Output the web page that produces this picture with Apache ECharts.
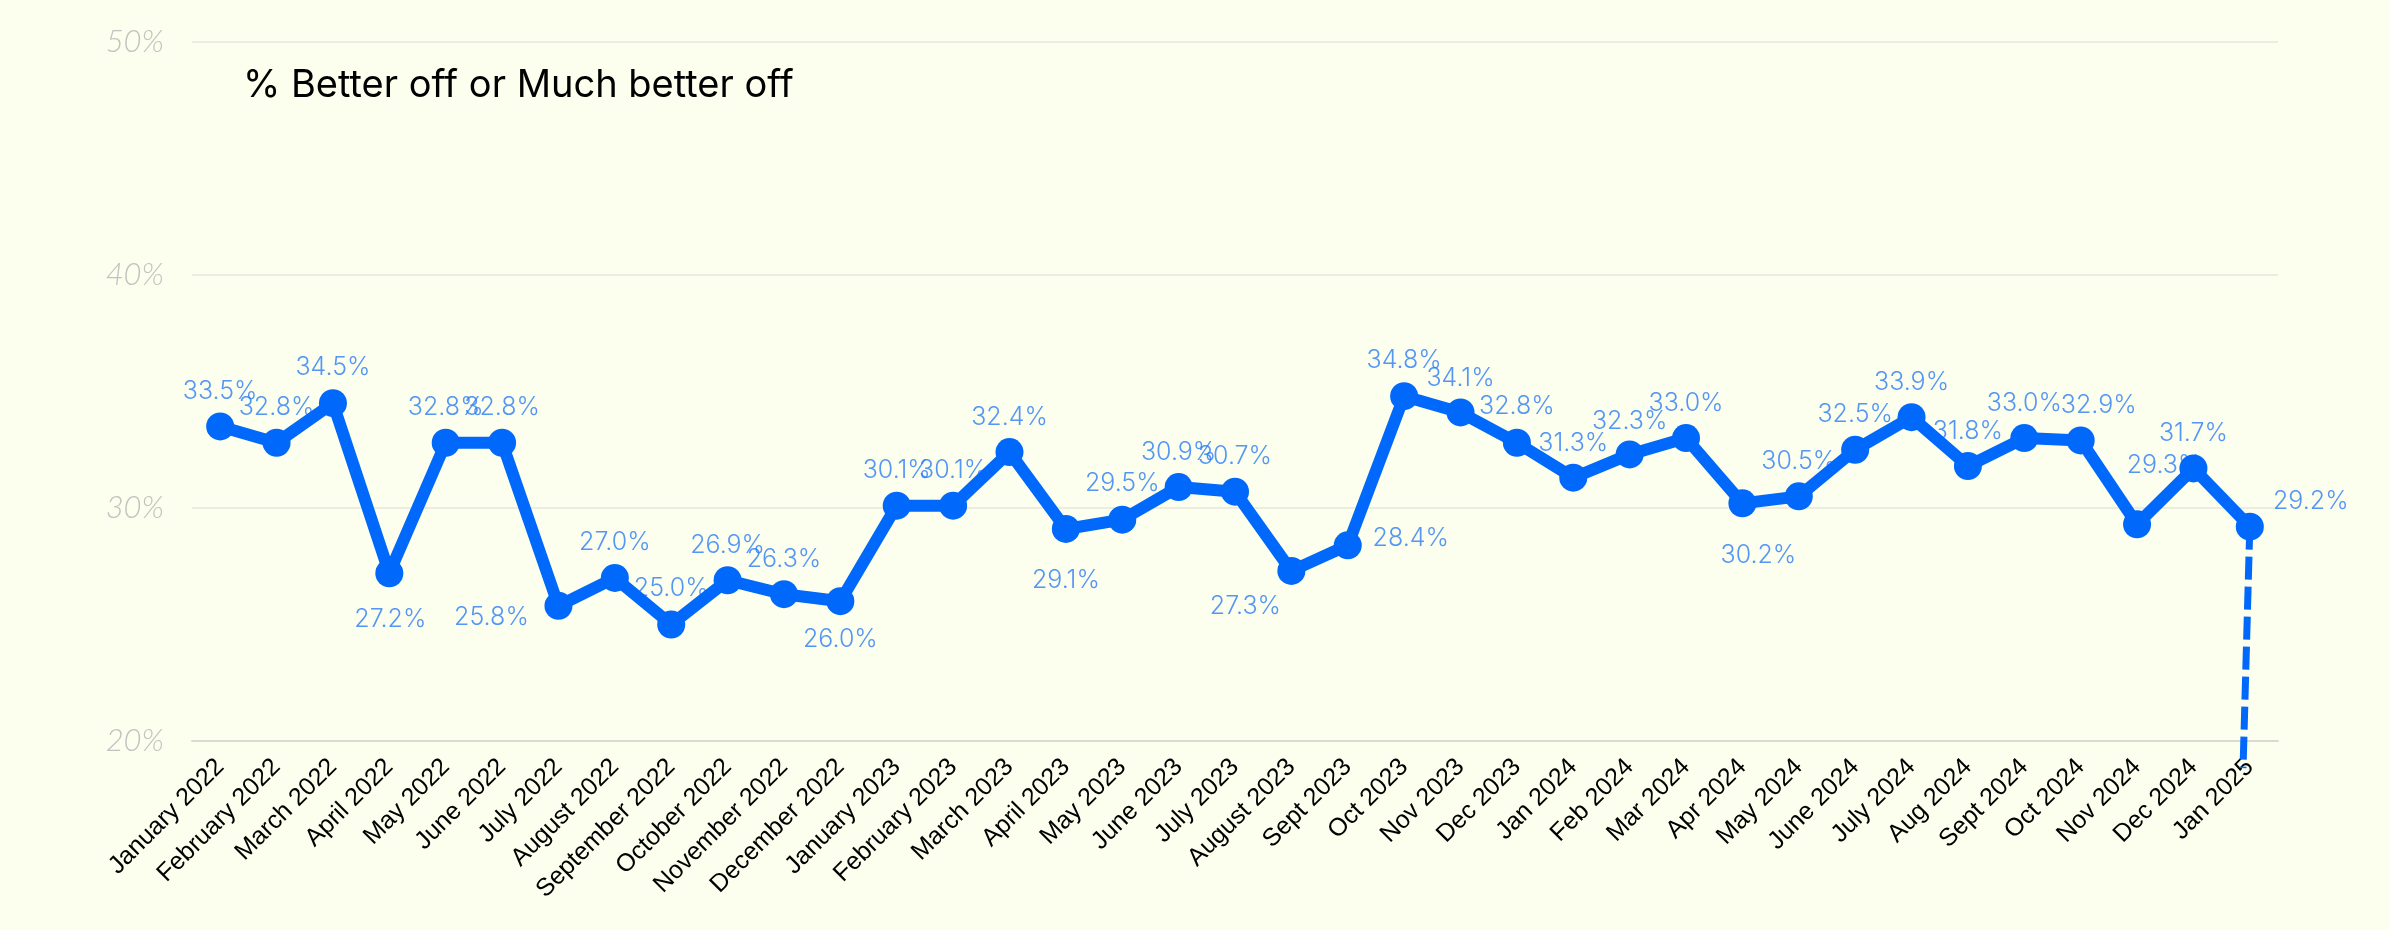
<!DOCTYPE html>
<html>
<head>
<meta charset="utf-8">
<script src="https://cdn.jsdelivr.net/npm/echarts@6/dist/echarts.min.js"></script>
<style>
  html, body { margin: 0; padding: 0; background: #fcfeee; }
  #chart { width: 2390px; height: 930px; }
</style>
</head>
<body>
<div id="chart"></div>
<script>
// Monthly survey: share answering "Better off" or "Much better off"
const months = [
  'January 2022', 'February 2022', 'March 2022', 'April 2022', 'May 2022', 'June 2022',
  'July 2022', 'August 2022', 'September 2022', 'October 2022', 'November 2022', 'December 2022',
  'January 2023', 'February 2023', 'March 2023', 'April 2023', 'May 2023', 'June 2023',
  'July 2023', 'August 2023', 'Sept 2023', 'Oct 2023', 'Nov 2023', 'Dec 2023',
  'Jan 2024', 'Feb 2024', 'Mar 2024', 'Apr 2024', 'May 2024', 'June 2024',
  'July 2024', 'Aug 2024', 'Sept 2024', 'Oct 2024', 'Nov 2024', 'Dec 2024', 'Jan 2025'
];

const betterOff = [
  33.5, 32.8, 34.5, 27.2, 32.8, 32.8, 25.8, 27.0, 25.0, 26.9, 26.3, 26.0,
  30.1, 30.1, 32.4, 29.1, 29.5, 30.9, 30.7, 27.3, 28.4, 34.8, 34.1, 32.8,
  31.3, 32.3, 33.0, 30.2, 30.5, 32.5, 33.9, 31.8, 33.0, 32.9, 29.3, 31.7, 29.2
];

// Dashed drop after the latest month: [month index, value]
const dropLine = [[36, 29.2], [35.88, 18.84]];

// Y axis ticks (percent)
const yTicks = [20, 30, 40, 50];

// Where each value label sits relative to its point, [dx, dy] in px
const labelOffsets = [
  [0, -35], [0, -35], [0, -36], [1, 46], [0, -35], [0, -35], [-67, 12], [0, -35], [0, -36], [0, -35], [0, -35], [0, 38],
  [0, -35], [0, -35], [0, -35], [0, 52], [0, -36], [0, -35], [0, -35], [-46, 36], [63, -7], [0, -36], [0, -34], [0, -36],
  [0, -34], [0, -33], [0, -35], [16, 52], [0, -35], [0, -35], [0, -35], [0, -35], [0, -35], [18, -35], [27, -59], [0, -35], [61, -25]
];

const LINE_BLUE = '#0068fa';
const LABEL_BLUE = '#2a7cf6';

const chart = echarts.init(document.getElementById('chart'), null, { renderer: 'canvas' });

chart.setOption({
  backgroundColor: '#fcfeee',
  animation: false,
  title: {
    text: '% Better off or Much better off',
    left: 238,
    top: 62,
    textStyle: {
      fontFamily: 'Inter',
      fontSize: 38,
      fontWeight: 400,
      color: '#000'
    }
  },
  grid: { left: 192, right: 112, top: 42, bottom: 189, containLabel: false },
  xAxis: [
    {
      type: 'category',
      data: months,
      boundaryGap: true,
      axisLine: { show: true, lineStyle: { color: '#d9d9d6', width: 2 } },
      axisTick: { show: false },
      axisLabel: {
        interval: 0,
        rotate: 45,
        margin: 22,
        fontFamily: 'Liberation Sans',
        fontSize: 25,
        color: '#000'
      },
      splitLine: { show: false }
    },
    {
      type: 'value',
      min: -0.5,
      max: months.length - 0.5,
      show: false
    }
  ],
  yAxis: {
    type: 'value',
    min: yTicks[0],
    max: yTicks[yTicks.length - 1],
    interval: yTicks[1] - yTicks[0],
    axisLine: { show: false },
    axisTick: { show: false },
    axisLabel: {
      formatter: '{value}%',
      margin: 28,
      fontFamily: 'Lato',
      fontStyle: 'italic',
      fontWeight: 300,
      fontSize: 31,
      color: '#c2c2c0'
    },
    splitLine: { lineStyle: { color: '#ecede0', width: 2 } }
  },
  series: [
    {
      // value labels, kept beneath the line
      name: 'labels',
      type: 'scatter',
      z: 1,
      symbol: 'circle',
      symbolSize: 28,
      itemStyle: { color: 'rgba(0,0,0,0)' },
      data: betterOff.map((v, i) => ({
        value: v,
        label: { offset: labelOffsets[i] }
      })),
      label: {
        show: true,
        position: 'inside',
        formatter: p => p.value.toFixed(1) + '%',
        fontFamily: 'Inter',
        fontWeight: 300,
        fontSize: 25,
        color: LABEL_BLUE
      },
      silent: true
    },
    {
      name: 'drop',
      type: 'line',
      xAxisIndex: 1,
      z: 2,
      clip: false,
      symbol: 'none',
      data: dropLine,
      lineStyle: { color: LINE_BLUE, width: 7, type: [23, 7] },
      silent: true
    },
    {
      name: '% Better off or Much better off',
      type: 'line',
      z: 3,
      data: betterOff,
      symbol: 'circle',
      symbolSize: 28,
      showAllSymbol: true,
      lineStyle: { color: LINE_BLUE, width: 12, join: 'round' },
      itemStyle: { color: LINE_BLUE },
      label: { show: false }
    }
  ]
});
</script>
</body>
</html>
